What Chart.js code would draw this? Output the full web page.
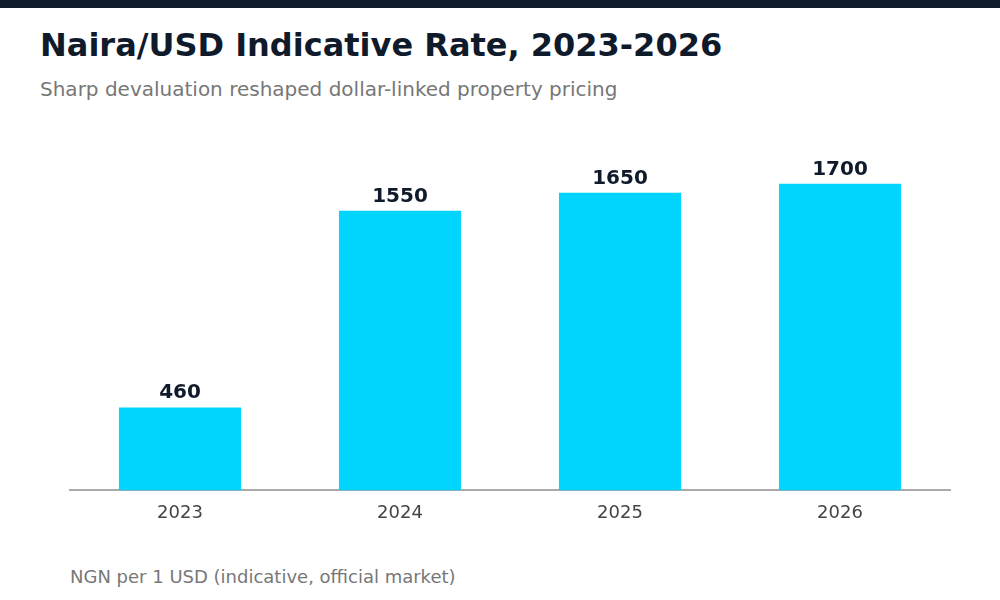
<!DOCTYPE html>
<html>
<head>
<meta charset="utf-8">
<script src="https://cdn.jsdelivr.net/npm/chart.js@4"></script>
<style>
  html, body { margin: 0; padding: 0; background: #fff; }
  body { width: 1000px; height: 600px; position: relative; overflow: hidden; font-family: "DejaVu Sans", sans-serif; }
  .topbar { position: absolute; left: 0; top: 0; width: 1000px; height: 8px; background: #0f1a2b; }
  .title { position: absolute; left: 40px; top: 29px; font-size: 32px; font-weight: bold; color: #0f1a2b; line-height: 1; white-space: nowrap; }
  .subtitle { position: absolute; left: 40px; top: 79px; font-size: 20px; color: #777; line-height: 1; white-space: nowrap; }
  .footer { position: absolute; left: 70px; top: 568px; font-size: 18px; color: #777; line-height: 1; white-space: nowrap; }
  .wrap { position: absolute; left: 0; top: 0; width: 1000px; height: 536px; }
</style>
</head>
<body>
<div class="topbar"></div>
<div class="title">Naira/USD Indicative Rate, 2023-2026</div>
<div class="subtitle">Sharp devaluation reshaped dollar-linked property pricing</div>
<div class="wrap"><canvas id="chart"></canvas></div>
<div class="footer">NGN per 1 USD (indicative, official market)</div>
<script>
// Chart data
const years = ['2023', '2024', '2025', '2026'];
const rates = [460, 1550, 1650, 1700];
const yMax = 1870;

/**
 * Draws the value above each bar
 */
const valueLabels = {
    id: 'valueLabels',
    afterDatasetsDraw(chart) {
        const ctx = chart.ctx;
        const meta = chart.getDatasetMeta(0);
        ctx.save();
        ctx.font = 'bold 20px "DejaVu Sans"';
        ctx.fillStyle = '#0f1a2b';
        ctx.textAlign = 'center';
        ctx.textBaseline = 'alphabetic';
        meta.data.forEach((bar, i) => {
            ctx.fillText(String(rates[i]), bar.x, bar.y - 9);
        });
        ctx.restore();
    }
};

const ctx = document.getElementById('chart').getContext('2d');
new Chart(ctx, {
    type: 'bar',
    data: {
        labels: years,
        datasets: [{
            data: rates,
            backgroundColor: '#00d4ff',
            borderWidth: 0,
            categoryPercentage: 1,
            barPercentage: 0.555,
        }]
    },
    options: {
        responsive: true,
        maintainAspectRatio: false,
        animation: false,
        layout: { padding: { left: 70, right: 50, top: 153, bottom: 0 } },
        plugins: {
            legend: { display: false },
            tooltip: { enabled: false },
        },
        scales: {
            x: {
                grid: { display: false, drawTicks: false },
                border: { display: true, color: '#aaaaaa', width: 2 },
                ticks: { color: '#444', padding: 12, font: { family: 'DejaVu Sans', size: 18 } },
            },
            y: {
                display: false,
                min: 0,
                max: yMax,
            }
        }
    },
    plugins: [valueLabels]
});
</script>
</body>
</html>
